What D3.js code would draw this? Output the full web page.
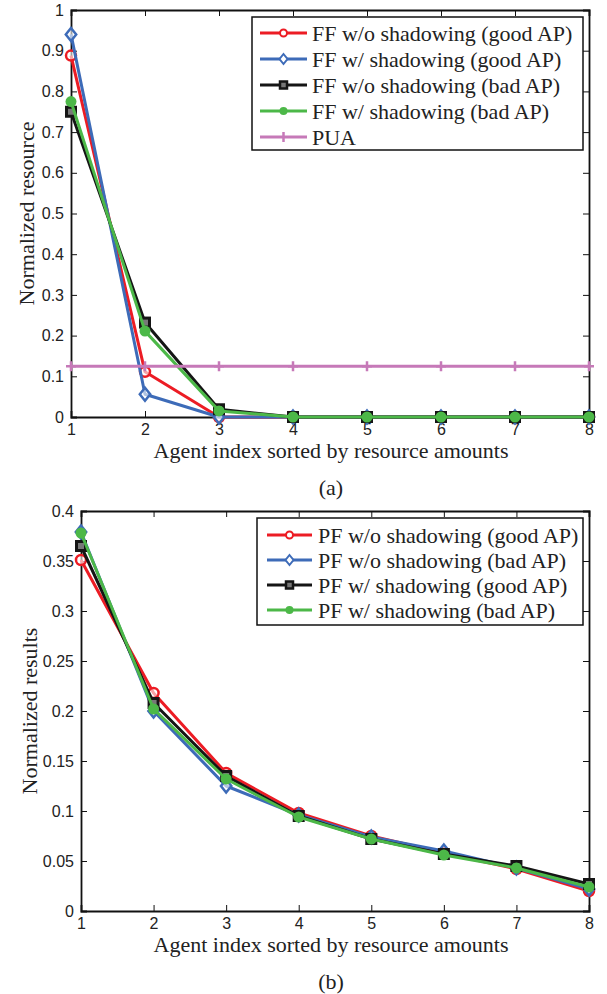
<!DOCTYPE html>
<html>
<head>
<meta charset="utf-8">
<script src="https://cdn.jsdelivr.net/npm/d3@7"></script>
<style>
  body { margin: 0; background: #fff; }
  svg { display: block; }
  .tick-label { font-family: "Liberation Sans", Arial, sans-serif; font-size: 16px; fill: #222; }
  .serif { font-family: "Liberation Serif", "Times New Roman", serif; fill: #222; }
</style>
</head>
<body>
<svg id="chart" width="607" height="994"></svg>
<script>
// agents on the x axis
var agents = [1, 2, 3, 4, 5, 6, 7, 8];

// panel (a): normalized resource
var ffNoShadowGood = [0.888, 0.111, 0.0, 0, 0, 0, 0, 0];
var ffShadowGood   = [0.940, 0.056, 0.0, 0, 0, 0, 0, 0];
var ffNoShadowBad  = [0.750, 0.232, 0.019, 0, 0, 0, 0, 0];
var ffShadowBad    = [0.775, 0.211, 0.015, 0, 0, 0, 0, 0];
var pua            = [0.125, 0.125, 0.125, 0.125, 0.125, 0.125, 0.125, 0.125];
var yTicksA = [0, 0.1, 0.2, 0.3, 0.4, 0.5, 0.6, 0.7, 0.8, 0.9, 1];

// panel (b): normalized results
var pfNoShadowGood = [0.351, 0.218, 0.138, 0.098, 0.075, 0.058, 0.042, 0.020];
var pfNoShadowBad  = [0.379, 0.200, 0.125, 0.096, 0.074, 0.060, 0.043, 0.022];
var pfShadowGood   = [0.365, 0.208, 0.135, 0.095, 0.072, 0.057, 0.045, 0.027];
var pfShadowBad    = [0.378, 0.202, 0.132, 0.094, 0.072, 0.056, 0.043, 0.024];
var yTicksB = [0, 0.05, 0.1, 0.15, 0.2, 0.25, 0.3, 0.35, 0.4];

var RED = "#ec1c24", BLUE = "#3d6bb8", BLACK = "#151515", GREEN = "#4cb848", PINK = "#c679b8";
var FS = 22; // serif label size

var svg = d3.select("#chart");

function drawMarker(g, type, x, y, color) {
    if (type === "circle") {
        g.append("circle").attr("cx", x).attr("cy", y).attr("r", 5)
            .attr("fill", "#fff").attr("fill-opacity", 0.6).attr("stroke", color).attr("stroke-width", 2.5);
    } else if (type === "diamond") {
        var s = 6.5;
        g.append("path").attr("d", `M${x},${y - s}L${x + s * 0.8},${y}L${x},${y + s}L${x - s * 0.8},${y}Z`)
            .attr("fill", "#fff").attr("fill-opacity", 0.6).attr("stroke", color).attr("stroke-width", 2.5);
    } else if (type === "square") {
        g.append("rect").attr("x", x - 4.5).attr("y", y - 4.5).attr("width", 9).attr("height", 9)
            .attr("fill", "#777").attr("stroke", color).attr("stroke-width", 3);
    } else if (type === "dot") {
        g.append("circle").attr("cx", x).attr("cy", y).attr("r", 5.5).attr("fill", color);
    } else if (type === "plus") {
        g.append("path").attr("d", `M${x - 5},${y}H${x + 5}M${x},${y - 5}V${y + 5}`)
            .attr("stroke", color).attr("stroke-width", 2.5);
    }
}

function panel(opt) {
    var g = svg.append("g");
    var x = d3.scaleLinear().domain([1, 8]).range([opt.left, opt.right]);
    var y = d3.scaleLinear().domain(opt.yDomain).range([opt.bottom, opt.top]);

    // box + inward ticks
    var axB = d3.axisBottom(x).tickValues(agents).tickSize(-6).tickPadding(7).tickFormat(d3.format("d"));
    var axT = d3.axisTop(x).tickValues(agents).tickSize(-6).tickFormat("");
    var axL = d3.axisLeft(y).tickValues(opt.yTicks).tickSize(-6).tickPadding(7).tickFormat(d => d3.format("")(+d.toFixed(2)));
    var axR = d3.axisRight(y).tickValues(opt.yTicks).tickSize(-6).tickFormat("");

    [[axB, `translate(0,${opt.bottom})`], [axT, `translate(0,${opt.top})`],
     [axL, `translate(${opt.left},0)`], [axR, `translate(${opt.right},0)`]].forEach(function(a) {
        var ag = g.append("g").attr("transform", a[1]).call(a[0]);
        ag.select(".domain").attr("stroke", "#111").attr("stroke-width", 1.8);
        ag.selectAll(".tick line").attr("stroke", "#111").attr("stroke-width", 1);
        ag.selectAll(".tick text").attr("class", "tick-label").attr("fill", null);
    });

    // series
    var line = d3.line().x((d, i) => x(agents[i])).y(d => y(d));
    opt.series.forEach(function(s) {
        var sg = g.append("g");
        sg.append("path").attr("d", line(s.values)).attr("fill", "none")
            .attr("stroke", s.color).attr("stroke-width", 3).attr("stroke-linejoin", "round");
        s.values.forEach((v, i) => drawMarker(sg, s.marker, x(agents[i]), y(v), s.color));
    });

    // labels
    g.append("text").attr("class", "serif").attr("font-size", FS)
        .attr("transform", `translate(${opt.yLabelX},${(opt.top + opt.bottom) / 2}) rotate(-90)`)
        .attr("text-anchor", "middle").text(opt.yLabel);
    g.append("text").attr("class", "serif").attr("font-size", FS)
        .attr("x", 331).attr("y", opt.bottom + 41)
        .attr("text-anchor", "middle").text("Agent index sorted by resource amounts");
    g.append("text").attr("class", "serif").attr("font-size", FS)
        .attr("x", 331).attr("y", opt.bottom + 78)
        .attr("text-anchor", "middle").text(opt.tag);

    // legend
    var L = opt.legend;
    g.append("rect").attr("x", L.x).attr("y", L.y).attr("width", L.w).attr("height", L.h)
        .attr("fill", "#fff").attr("stroke", "#111").attr("stroke-width", 1.5);
    opt.series.forEach(function(s, i) {
        var cy = L.y + L.first + i * L.step;
        var lg = g.append("g");
        lg.append("line").attr("x1", L.x + L.lx0).attr("x2", L.x + L.lx1).attr("y1", cy).attr("y2", cy)
            .attr("stroke", s.color).attr("stroke-width", 3);
        var mx = L.x + (L.lx0 + L.lx1) / 2;
        if (s.marker === "dot") {
            lg.append("circle").attr("cx", mx).attr("cy", cy).attr("r", 4).attr("fill", s.color);
        } else if (s.marker === "circle") {
            lg.append("circle").attr("cx", mx).attr("cy", cy).attr("r", 3.5).attr("fill", "#fff").attr("stroke", s.color).attr("stroke-width", 2);
        } else if (s.marker === "diamond") {
            lg.append("path").attr("d", `M${mx},${cy - 5}L${mx + 4},${cy}L${mx},${cy + 5}L${mx - 4},${cy}Z`)
                .attr("fill", "#fff").attr("stroke", s.color).attr("stroke-width", 2);
        } else if (s.marker === "square") {
            lg.append("rect").attr("x", mx - 3.5).attr("y", cy - 3.5).attr("width", 7).attr("height", 7)
                .attr("fill", "#777").attr("stroke", s.color).attr("stroke-width", 2.5);
        } else if (s.marker === "plus") {
            lg.append("path").attr("d", `M${mx},${cy - 5}V${cy + 5}`).attr("stroke", s.color).attr("stroke-width", 2.5);
        }
        lg.append("text").attr("class", "serif").attr("font-size", FS)
            .attr("x", L.x + L.tx).attr("y", cy + 7.5).text(s.name);
    });
}

panel({
    left: 71, right: 589, top: 10, bottom: 417,
    yDomain: [0, 1], yTicks: yTicksA,
    yLabel: "Normalized resource", yLabelX: 34, tag: "(a)",
    series: [
        { name: "FF w/o shadowing (good AP)", values: ffNoShadowGood, color: RED, marker: "circle" },
        { name: "FF w/ shadowing (good AP)", values: ffShadowGood, color: BLUE, marker: "diamond" },
        { name: "FF w/o shadowing (bad AP)", values: ffNoShadowBad, color: BLACK, marker: "square" },
        { name: "FF w/ shadowing (bad AP)", values: ffShadowBad, color: GREEN, marker: "dot" },
        { name: "PUA", values: pua, color: PINK, marker: "plus" }
    ],
    legend: { x: 252, y: 17, w: 331, h: 133, first: 16, step: 26, lx0: 8, lx1: 55, tx: 60 }
});

panel({
    left: 81, right: 589, top: 511, bottom: 911,
    yDomain: [0, 0.4], yTicks: yTicksB,
    yLabel: "Normalized results", yLabelX: 37, tag: "(b)",
    series: [
        { name: "PF w/o shadowing (good AP)", values: pfNoShadowGood, color: RED, marker: "circle" },
        { name: "PF w/o shadowing (bad AP)", values: pfNoShadowBad, color: BLUE, marker: "diamond" },
        { name: "PF w/ shadowing (good AP)", values: pfShadowGood, color: BLACK, marker: "square" },
        { name: "PF w/ shadowing (bad AP)", values: pfShadowBad, color: GREEN, marker: "dot" }
    ],
    legend: { x: 257, y: 518, w: 326, h: 107, first: 17, step: 25, lx0: 10, lx1: 55, tx: 61 }
});
</script>
</body>
</html>
